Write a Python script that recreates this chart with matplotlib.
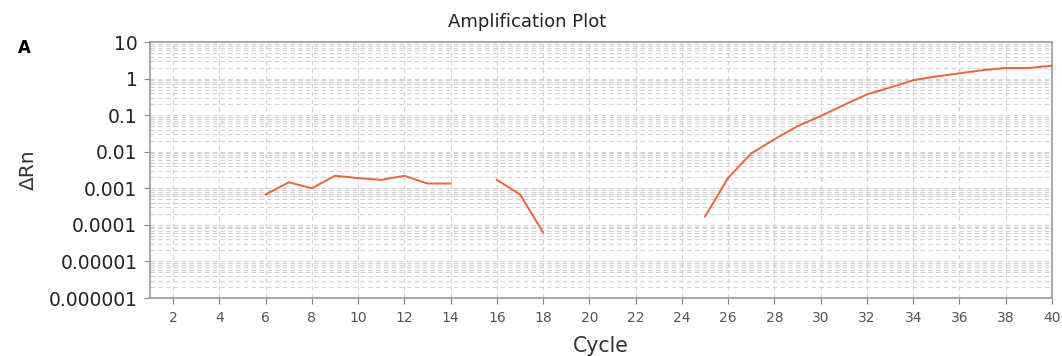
"""
Amplification plot (delta Rn vs cycle, log scale).
Output: out.png
"""
import numpy as np
import matplotlib
matplotlib.use("Agg")
import matplotlib.pyplot as plt
from matplotlib.ticker import LogLocator, FixedLocator, NullFormatter

# three unbroken segments of the trace
seg1_cycles = [6, 7, 8, 9, 10, 11, 12, 13, 14]
seg1_drn    = [6.8e-4, 1.46e-3, 1.0e-3, 2.2e-3, 1.9e-3, 1.7e-3, 2.2e-3, 1.35e-3, 1.35e-3]

seg2_cycles = [16, 17, 18]
seg2_drn    = [1.7e-3, 6.8e-4, 6.2e-5]

seg3_cycles = list(range(25, 41))
seg3_drn    = [1.7e-4, 1.95e-3, 9.0e-3, 0.022, 0.05, 0.095, 0.19, 0.37,
               0.57, 0.9, 1.15, 1.39, 1.7, 1.95, 1.95, 2.25]

y_ticks  = [1e-6, 1e-5, 1e-4, 1e-3, 1e-2, 1e-1, 1, 10]
y_labels = ["0.000001", "0.00001", "0.0001", "0.001", "0.01", "0.1", "1", "10"]
x_ticks  = list(range(2, 41, 2))

LINE = "#f0643a"
GRID = "#d2d2d2"

fig = plt.figure(figsize=(10.62, 3.56), dpi=100)
ax = fig.add_axes([0.1412, 0.1629, 0.8494, 0.7191])

for cyc, val in [(seg1_cycles, seg1_drn), (seg2_cycles, seg2_drn), (seg3_cycles, seg3_drn)]:
    ax.plot(cyc, val, color=LINE, lw=1.4, zorder=3)

ax.set_yscale("log")
ax.set_ylim(1e-6, 10)
ax.set_xlim(1, 40)

ax.yaxis.set_major_locator(FixedLocator(y_ticks))
ax.set_yticklabels(y_labels)
ax.yaxis.set_minor_locator(LogLocator(base=10, subs=np.arange(2, 10), numticks=20))
ax.yaxis.set_minor_formatter(NullFormatter())
ax.xaxis.set_major_locator(FixedLocator(x_ticks))

ax.grid(True, which="major", axis="both", color=GRID, ls=(0, (4, 3)), lw=0.8)
ax.grid(True, which="minor", axis="y", color=GRID, ls=(0, (4, 3)), lw=0.8)

ax.tick_params(axis="y", which="major", labelsize=13.5, length=4, pad=5,
               color="#888888", labelcolor="#222222")
ax.tick_params(axis="y", which="minor", length=0)
ax.tick_params(axis="x", labelsize=10, length=4, pad=5, color="#888888",
               labelcolor="#555555")

for sp in ax.spines.values():
    sp.set_color("#999999")
    sp.set_linewidth(1.2)

fig.text(0.4962, 1 - 22 / 356, "Amplification Plot", fontsize=13, color="#222222",
         ha="center", va="center")
ax.set_xlabel("Cycle", fontsize=14.8, color="#333333")
ax.xaxis.set_label_coords(0.5, -0.15)
ax.set_ylabel("ΔRn", fontsize=14.5, color="#333333")
ax.yaxis.set_label_coords(-0.124, 0.5)
fig.text(0.0226, 1 - 48 / 356, "A", fontsize=12, fontweight="bold", ha="center", va="center")

fig.savefig("out.png", dpi=100)
